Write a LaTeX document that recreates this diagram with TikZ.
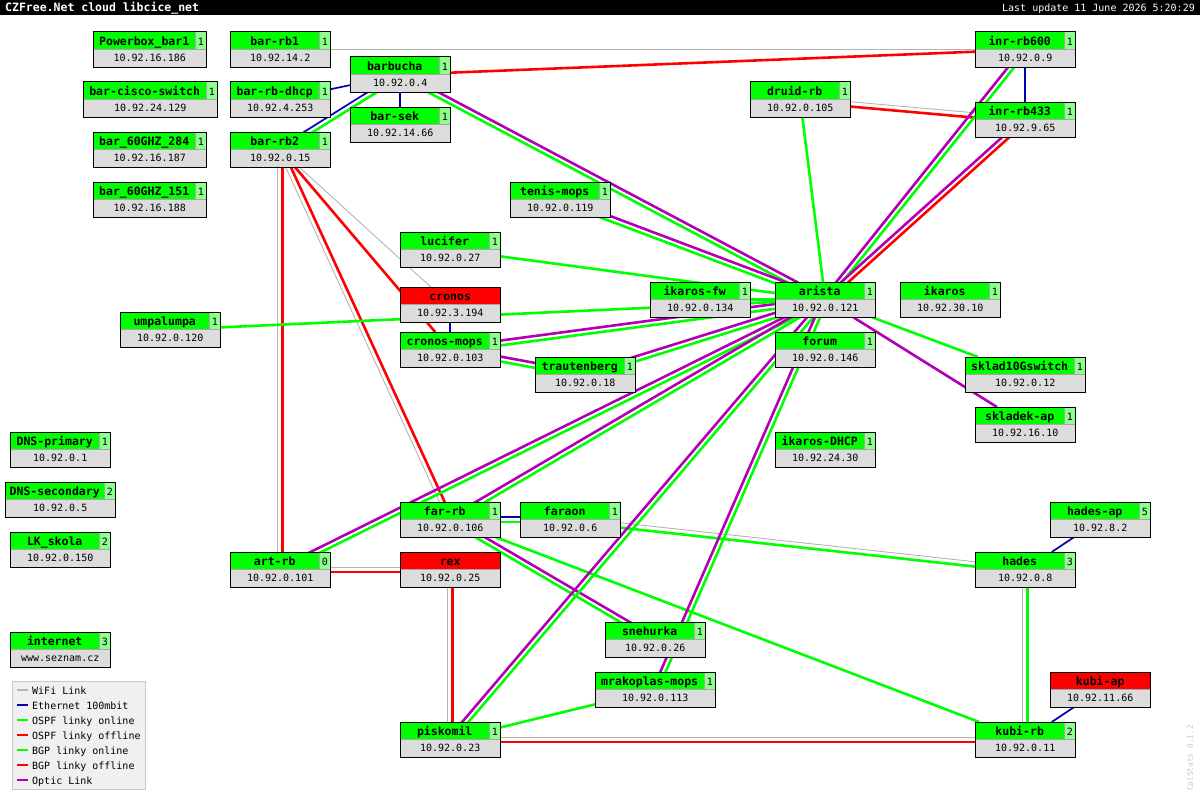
\documentclass[tikz,border=0pt]{standalone}
\usepackage{fontspec}
\setmonofont{DejaVu Sans Mono}
\usepackage{tikz}
\usetikzlibrary{calc, backgrounds}
\definecolor{upgreen}{HTML}{00FF00}
\definecolor{cntgreen}{HTML}{8CFF8C}
\definecolor{ipgray}{HTML}{DCDCDC}
\definecolor{downred}{HTML}{FF0000}
\definecolor{opticpurple}{HTML}{B400B4}
\definecolor{ethblue}{HTML}{0000B4}
\definecolor{wifigray}{HTML}{B4B4B4}
\definecolor{legfill}{HTML}{F0F0F0}
\definecolor{legborder}{HTML}{C8C8C8}

\tikzset{
  hostbox/.style={fill=ipgray, minimum height=35pt, inner sep=0pt},
  frame/.style={draw=black, line width=1pt},
  sepline/.style={draw=black!35, line width=0.8pt},
  namelbl/.style={inner sep=0pt, anchor=base, font=\ttfamily\bfseries\fontsize{11.5}{12}\selectfont},
  cntlbl/.style={inner sep=0pt, anchor=base, font=\ttfamily\fontsize{10}{12}\selectfont},
  iplbl/.style={inner sep=0pt, anchor=base, font=\ttfamily\fontsize{10}{12}\selectfont},
  wifi/.style={draw=wifigray, line width=0.9pt},
  eth/.style={draw=ethblue, line width=1.7pt},
  ospfon/.style={draw=upgreen, line width=2.6pt},
  ospfoff/.style={draw=downred, line width=2.6pt},
  bgpon/.style={draw=upgreen, line width=2pt},
  bgpoff/.style={draw=downred, line width=2pt},
  optic/.style={draw=opticpurple, line width=2.6pt}
}

% id, left, top, width, name, count, ip
\newcommand{\host}[7]{%
  \node[hostbox, minimum width=#4pt, anchor=north west] (#1) at (#2,#3) {};
  \fill[upgreen] (#1.north west) rectangle ([shift={(-11pt,-17pt)}]#1.north east);
  \fill[cntgreen] ([xshift=-11pt]#1.north east) rectangle ([yshift=-17pt]#1.north east);
  \draw[sepline] ([yshift=-17pt]#1.north west) -- ([yshift=-17pt]#1.north east);
  \draw[sepline] ([xshift=-11pt]#1.north east) -- ([shift={(-11pt,-17pt)}]#1.north east);
  \node[namelbl] (#1-name) at ($([yshift=-13.5pt]#1.north west)!0.5!([shift={(-11pt,-13.5pt)}]#1.north east)$) {#5};
  \node[cntlbl] (#1-cnt) at ([shift={(-5.5pt,-13.5pt)}]#1.north east) {#6};
  \node[iplbl] (#1-ip) at ([yshift=5.5pt]#1.south) {#7};
  \draw[frame] (#1.north west) rectangle (#1.south east);
}
% id, left, top, width, name, ip
\newcommand{\deadhost}[6]{%
  \node[hostbox, minimum width=#4pt, anchor=north west] (#1) at (#2,#3) {};
  \fill[downred] (#1.north west) rectangle ([yshift=-17pt]#1.north east);
  \draw[sepline] ([yshift=-17pt]#1.north west) -- ([yshift=-17pt]#1.north east);
  \node[namelbl] (#1-name) at ([yshift=-13.5pt]#1.north) {#5};
  \node[iplbl] (#1-ip) at ([yshift=5.5pt]#1.south) {#6};
  \draw[frame] (#1.north west) rectangle (#1.south east);
}
% two links side by side: a, b, left side, right side
\newcommand{\duo}[4]{%
  \draw[#3] ($(#1)!2.4pt!90:(#2)$) -- ($(#2)!2.4pt!-90:(#1)$);
  \draw[#4] ($(#1)!2.4pt!-90:(#2)$) -- ($(#2)!2.4pt!90:(#1)$);
}

\begin{document}
\begin{tikzpicture}[x=1pt, y=-1pt]
  \useasboundingbox (0,0) rectangle (1200,800);

  % title bar
  \fill[black] (0,0) rectangle (1200,15);
  \node[anchor=base west, inner sep=0pt, text=white, font=\ttfamily\bfseries\fontsize{11.5}{12}\selectfont] (title) at (5,12) {CZFree.Net cloud libcice\_net};
  \node[anchor=base east, inner sep=0pt, text=white, font=\ttfamily\fontsize{10}{12}\selectfont] (stamp) at (1195,12) {Last update 11 June 2026 5:20:29};

  % hosts
  \host{pwrbox}{93}{32}{113}{Powerbox\_bar1}{1}{10.92.16.186}
  \host{barcisco}{83}{82}{134}{bar-cisco-switch}{1}{10.92.24.129}
  \host{bar284}{93}{132}{113}{bar\_60GHZ\_284}{1}{10.92.16.187}
  \host{bar151}{93}{182}{113}{bar\_60GHZ\_151}{1}{10.92.16.188}
  \host{barrb1}{230}{32}{100}{bar-rb1}{1}{10.92.14.2}
  \host{barrbdhcp}{230}{82}{100}{bar-rb-dhcp}{1}{10.92.4.253}
  \host{barrb2}{230}{132}{100}{bar-rb2}{1}{10.92.0.15}
  \host{barbucha}{350}{57}{100}{barbucha}{1}{10.92.0.4}
  \host{barsek}{350}{107}{100}{bar-sek}{1}{10.92.14.66}
  \host{inr600}{975}{32}{100}{inr-rb600}{1}{10.92.0.9}
  \host{druid}{750}{82}{100}{druid-rb}{1}{10.92.0.105}
  \host{inr433}{975}{102}{100}{inr-rb433}{1}{10.92.9.65}
  \host{tenis}{510}{182}{100}{tenis-mops}{1}{10.92.0.119}
  \host{lucifer}{400}{232}{100}{lucifer}{1}{10.92.0.27}
  \deadhost{cronos}{400}{287}{100}{cronos}{10.92.3.194}
  \host{ikarosfw}{650}{282}{100}{ikaros-fw}{1}{10.92.0.134}
  \host{arista}{775}{282}{100}{arista}{1}{10.92.0.121}
  \host{ikaros}{900}{282}{100}{ikaros}{1}{10.92.30.10}
  \host{umpalumpa}{120}{312}{100}{umpalumpa}{1}{10.92.0.120}
  \host{cronosmops}{400}{332}{100}{cronos-mops}{1}{10.92.0.103}
  \host{forum}{775}{332}{100}{forum}{1}{10.92.0.146}
  \host{traut}{535}{357}{100}{trautenberg}{1}{10.92.0.18}
  \host{sklad10}{965}{357}{120}{sklad10Gswitch}{1}{10.92.0.12}
  \host{skladek}{975}{407}{100}{skladek-ap}{1}{10.92.16.10}
  \host{dnsprim}{10}{432}{100}{DNS-primary}{1}{10.92.0.1}
  \host{ikarosdhcp}{775}{432}{100}{ikaros-DHCP}{1}{10.92.24.30}
  \host{dnssec}{5}{482}{110}{DNS-secondary}{2}{10.92.0.5}
  \host{hadesap}{1050}{502}{100}{hades-ap}{5}{10.92.8.2}
  \host{farrb}{400}{502}{100}{far-rb}{1}{10.92.0.106}
  \host{faraon}{520}{502}{100}{faraon}{1}{10.92.0.6}
  \host{lkskola}{10}{532}{100}{LK\_skola}{2}{10.92.0.150}
  \host{artrb}{230}{552}{100}{art-rb}{0}{10.92.0.101}
  \deadhost{rex}{400}{552}{100}{rex}{10.92.0.25}
  \host{hades}{975}{552}{100}{hades}{3}{10.92.0.8}
  \host{snehurka}{605}{622}{100}{snehurka}{1}{10.92.0.26}
  \host{internet}{10}{632}{100}{internet}{3}{www.seznam.cz}
  \host{mrakoplas}{595}{672}{120}{mrakoplas-mops}{1}{10.92.0.113}
  \deadhost{kubiap}{1050}{672}{100}{kubi-ap}{10.92.11.66}
  \host{piskomil}{400}{722}{100}{piskomil}{1}{10.92.0.23}
  \host{kubirb}{975}{722}{100}{kubi-rb}{2}{10.92.0.11}

  % links
  \begin{pgfonlayer}{background}
    \draw[wifi] (barrb1) -- (inr600);
    \draw[ospfoff] (barbucha) -- (inr600);
    \draw[eth] (barrbdhcp) -- (barbucha);
    \draw[eth] (barbucha) -- (barsek);
    \duo{barrb2}{barbucha}{eth}{ospfon}
    \duo{barbucha}{arista}{optic}{ospfon}
    \duo{tenis}{arista}{optic}{ospfon}
    \draw[ospfon] (lucifer) -- (arista);
    \draw[ospfon] (druid) -- (arista);
    \duo{druid}{inr433}{wifi}{ospfoff}
    \draw[eth] (inr600) -- (inr433);
    \duo{inr600}{arista}{ospfon}{optic}
    \duo{inr433}{arista}{ospfoff}{optic}
    \draw[wifi] (barrb2) -- (cronos);
    \draw[ospfoff] (barrb2) -- (cronosmops);
    \duo{barrb2}{farrb}{ospfoff}{wifi}
    \duo{barrb2}{artrb}{ospfoff}{wifi}
    \duo{artrb}{rex}{wifi}{ospfoff}
    \duo{artrb}{arista}{optic}{ospfon}
    \duo{farrb}{arista}{optic}{ospfon}
    \duo{farrb}{faraon}{eth}{ospfon}
    \duo{farrb}{snehurka}{optic}{ospfon}
    \draw[ospfon] (farrb) -- (kubirb);
    \duo{faraon}{hades}{wifi}{ospfon}
    \draw[eth] (hades) -- (hadesap);
    \duo{hades}{kubirb}{ospfon}{wifi}
    \draw[eth] (kubirb) -- (kubiap);
    \duo{piskomil}{kubirb}{wifi}{ospfoff}
    \duo{rex}{piskomil}{ospfoff}{wifi}
    \draw[ospfon] (piskomil) -- (mrakoplas);
    \duo{piskomil}{arista}{optic}{ospfon}
    \duo{mrakoplas}{arista}{optic}{ospfon}
    \draw[eth] (cronos) -- (cronosmops);
    \duo{cronosmops}{arista}{optic}{ospfon}
    \duo{cronosmops}{traut}{optic}{ospfon}
    \duo{traut}{arista}{optic}{ospfon}
    \draw[ospfon] (umpalumpa) -- (arista);
    \draw[ospfon] (ikarosfw) -- (arista);
    \draw[ospfon] (sklad10) -- (arista);
    \draw[optic] (skladek) -- (arista);
  \end{pgfonlayer}

  % legend
  \draw[draw=legborder, fill=legfill, line width=1pt] (12,681) rectangle (145,789);
  \foreach \sty/\txt [count=\i] in {wifi/WiFi Link, eth/Ethernet 100mbit, ospfon/OSPF linky online, ospfoff/OSPF linky offline, bgpon/BGP linky online, bgpoff/BGP linky offline, optic/Optic Link}{
    \draw[\sty, line width=2.2pt] (17,675+15*\i) -- (28,675+15*\i);
    \node[anchor=base west, inner sep=0pt, font=\ttfamily\fontsize{10}{12}\selectfont] (leg\i) at (32,679+15*\i) {\txt};
  }

  \node[rotate=90, inner sep=0pt, text=legborder, font=\ttfamily\fontsize{7.8}{9}\selectfont] (calstats) at (1190,758) {CalStats 0.1.2};
\end{tikzpicture}
\end{document}
